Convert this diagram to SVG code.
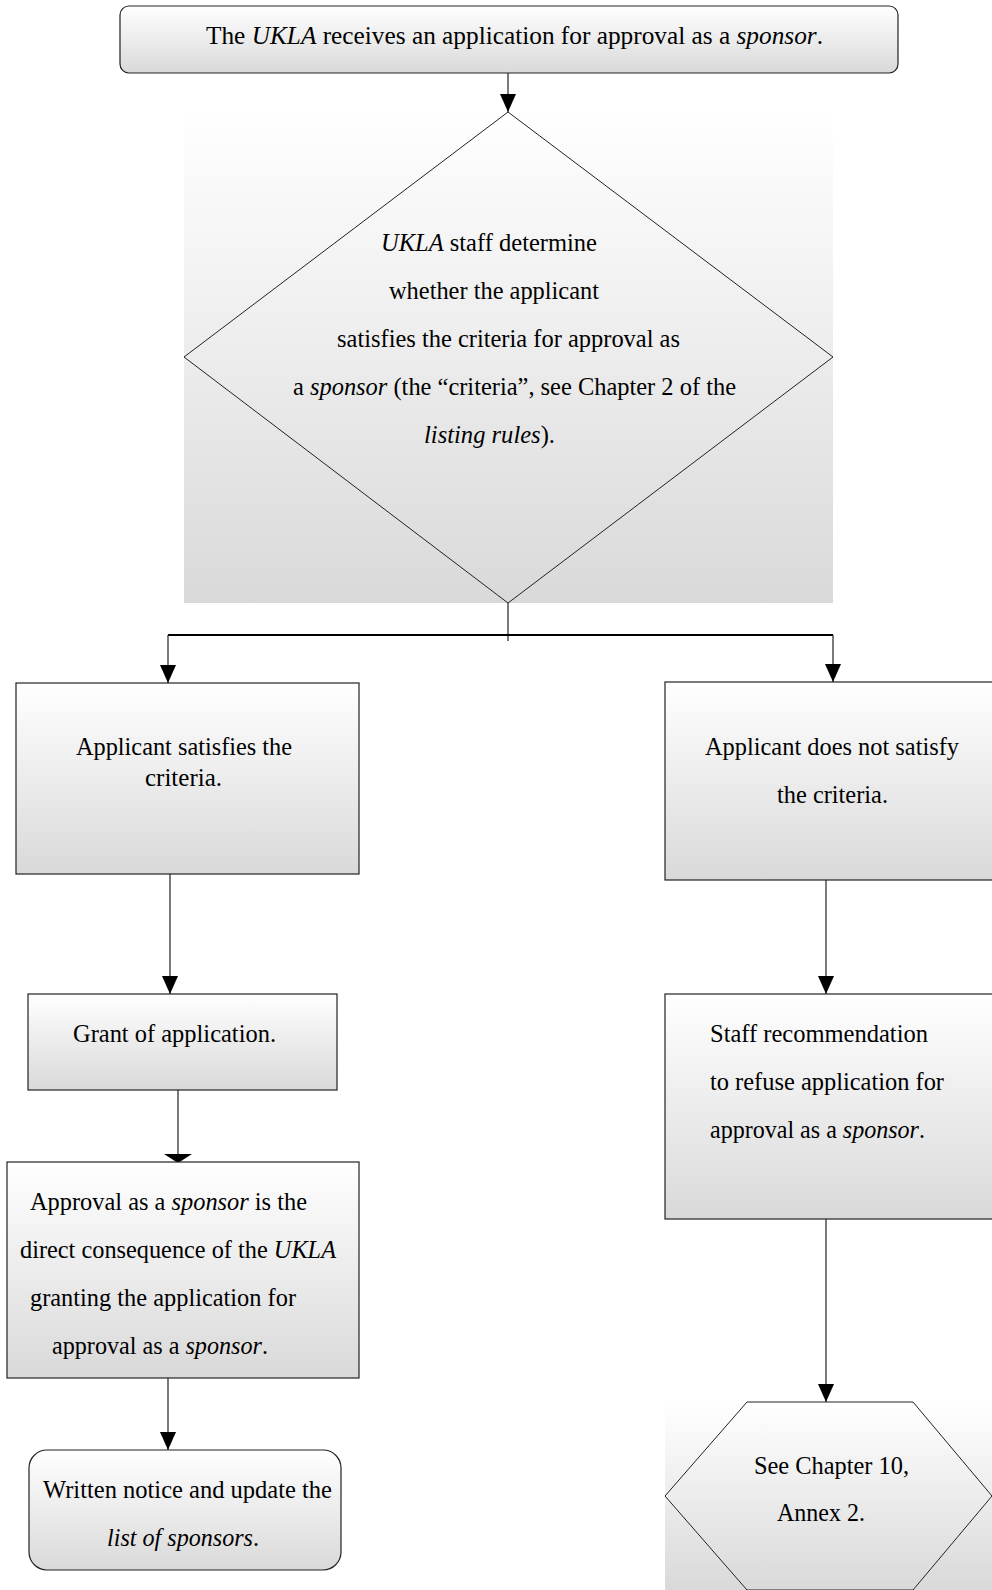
<svg xmlns="http://www.w3.org/2000/svg" width="992" height="1590" viewBox="0 0 992 1590">
<defs>
<linearGradient id="g" x1="0" y1="0" x2="0" y2="1">
<stop offset="0" stop-color="#ffffff"/>
<stop offset="1" stop-color="#d9d9d9"/>
</linearGradient>
<marker id="ah" markerUnits="userSpaceOnUse" markerWidth="18" markerHeight="16" refX="18" refY="8" orient="auto" viewBox="0 0 18 16">
<path d="M0,0 L18,8 L0,16 Z" fill="#000"/>
</marker>
<style>
text{font-family:"Liberation Serif","Times New Roman",serif;font-size:25px;fill:#000}
.i{font-style:italic}
.box{fill:url(#g);stroke:#222;stroke-width:1.2}
.edge{fill:none;stroke:#222;stroke-width:1.2}
</style>
</defs>

<g id="connectors">
<line class="edge" x1="508" y1="73" x2="508" y2="112" marker-end="url(#ah)"/>
<line class="edge" x1="508" y1="603" x2="508" y2="641"/>
<line x1="168" y1="635" x2="833" y2="635" stroke="#000" stroke-width="2.2"/>
<line class="edge" x1="168" y1="635" x2="168" y2="683" marker-end="url(#ah)"/>
<line class="edge" x1="833" y1="635" x2="833" y2="682" marker-end="url(#ah)"/>
<line class="edge" x1="170" y1="874" x2="170" y2="994" marker-end="url(#ah)"/>
<line class="edge" x1="178" y1="1090" x2="178" y2="1156"/>
<path d="M164,1154 L192,1154 L178,1163 Z" fill="#000"/>
<line class="edge" x1="168" y1="1378" x2="168" y2="1450" marker-end="url(#ah)"/>
<line class="edge" x1="826" y1="874" x2="826" y2="994" marker-end="url(#ah)"/>
<line class="edge" x1="826" y1="1219" x2="826" y2="1402" marker-end="url(#ah)"/>
</g>

<g id="n1">
<rect class="box" x="120" y="6" width="778" height="67" rx="9"/>
<text x="206" y="44" textLength="617" lengthAdjust="spacingAndGlyphs">The <tspan class="i">UKLA</tspan> receives an application for approval as a <tspan class="i">sponsor</tspan>.</text>
</g>

<g id="n2">
<rect x="184" y="112" width="649" height="491" fill="url(#g)"/>
<polygon points="508,112 833,357 508,603 184,357" fill="none" stroke="#222" stroke-width="1"/>
<text x="381" y="251" textLength="216" lengthAdjust="spacingAndGlyphs"><tspan class="i">UKLA</tspan> staff determine</text>
<text x="389" y="299" textLength="210" lengthAdjust="spacingAndGlyphs">whether the applicant</text>
<text x="337" y="347" textLength="343" lengthAdjust="spacingAndGlyphs">satisfies the criteria for approval as</text>
<text x="293" y="395" textLength="443" lengthAdjust="spacingAndGlyphs">a <tspan class="i">sponsor</tspan> (the “criteria”, see Chapter 2 of the</text>
<text x="424" y="443" textLength="131" lengthAdjust="spacingAndGlyphs"><tspan class="i">listing rules</tspan>).</text>
</g>

<g id="n3">
<rect class="box" x="16" y="683" width="343" height="191"/>
<text x="76" y="755" textLength="216" lengthAdjust="spacingAndGlyphs">Applicant satisfies the</text>
<text x="145" y="786" textLength="77" lengthAdjust="spacingAndGlyphs">criteria.</text>
</g>

<g id="n4">
<rect class="box" x="665" y="682" width="330" height="198"/>
<text x="705" y="755" textLength="254" lengthAdjust="spacingAndGlyphs">Applicant does not satisfy</text>
<text x="777" y="803" textLength="111" lengthAdjust="spacingAndGlyphs">the criteria.</text>
</g>

<g id="n5">
<rect class="box" x="28" y="994" width="309" height="96"/>
<text x="73" y="1042" textLength="203" lengthAdjust="spacingAndGlyphs">Grant of application.</text>
</g>

<g id="n6">
<rect class="box" x="7" y="1162" width="352" height="216"/>
<text x="30" y="1210" textLength="277" lengthAdjust="spacingAndGlyphs">Approval as a <tspan class="i">sponsor</tspan> is the</text>
<text x="20" y="1258" textLength="316" lengthAdjust="spacingAndGlyphs">direct consequence of the <tspan class="i">UKLA</tspan></text>
<text x="30" y="1306" textLength="266" lengthAdjust="spacingAndGlyphs">granting the application for</text>
<text x="52" y="1354" textLength="216" lengthAdjust="spacingAndGlyphs">approval as a <tspan class="i">sponsor</tspan>.</text>
</g>

<g id="n7">
<rect class="box" x="29" y="1450" width="312" height="120" rx="18"/>
<text x="43" y="1498" textLength="289" lengthAdjust="spacingAndGlyphs">Written notice and update the</text>
<text x="107" y="1546" textLength="152" lengthAdjust="spacingAndGlyphs"><tspan class="i">list of sponsors</tspan>.</text>
</g>

<g id="n8">
<rect class="box" x="665" y="994" width="330" height="225"/>
<text x="710" y="1042" textLength="218" lengthAdjust="spacingAndGlyphs">Staff recommendation</text>
<text x="710" y="1090" textLength="234" lengthAdjust="spacingAndGlyphs">to refuse application for</text>
<text x="710" y="1138" textLength="215" lengthAdjust="spacingAndGlyphs">approval as a <tspan class="i">sponsor</tspan>.</text>
</g>

<g id="n9">
<rect x="665" y="1402" width="327" height="188" fill="url(#g)"/>
<polygon points="747,1402 913,1402 992,1496 913,1590 747,1590 665,1496" fill="none" stroke="#222" stroke-width="1"/>
<text x="754" y="1474" textLength="155" lengthAdjust="spacingAndGlyphs">See Chapter 10,</text>
<text x="777" y="1521" textLength="88" lengthAdjust="spacingAndGlyphs">Annex 2.</text>
</g>
</svg>
